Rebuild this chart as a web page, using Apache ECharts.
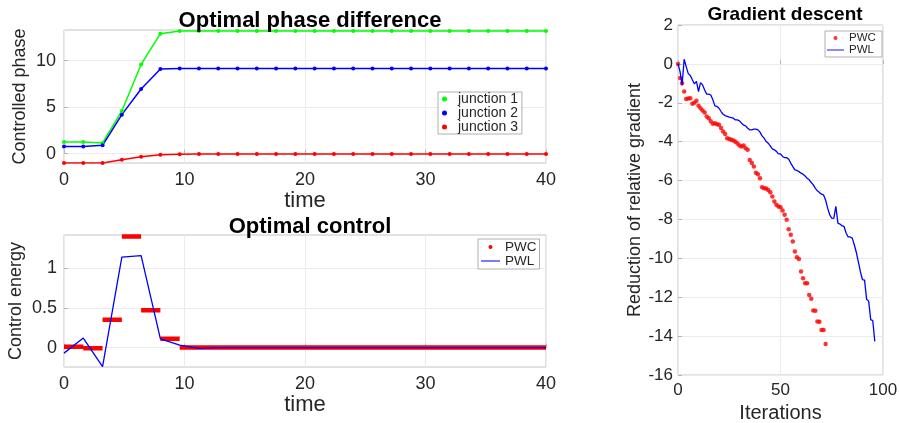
<!DOCTYPE html>
<html>
<head>
<meta charset="utf-8">
<script src="https://cdn.jsdelivr.net/npm/echarts@6/dist/echarts.min.js"></script>
<style>
  html, body { margin: 0; padding: 0; background: #fff; }
  #main { width: 899px; height: 423px; }
</style>
</head>
<body>
<div id="main"></div>
<script>
// time grid of the two left plots
const time = [0, 1.6, 3.2, 4.8, 6.4, 8, 9.6, 11.2, 12.8, 14.4, 16, 17.6, 19.2, 20.8, 22.4, 24,
  25.6, 27.2, 28.8, 30.4, 32, 33.6, 35.2, 36.8, 38.4, 40]

const junction1 = [1.25, 1.25, 1.15, 4.6, 9.6, 12.9, 13.2, 13.2, 13.2, 13.2, 13.2, 13.2, 13.2,
  13.2, 13.2, 13.2, 13.2, 13.2, 13.2, 13.2, 13.2, 13.2, 13.2, 13.2, 13.2, 13.2]
const junction2 = [0.78, 0.78, 0.9, 4.2, 6.95, 9.1, 9.15, 9.15, 9.15, 9.15, 9.15, 9.15, 9.15,
  9.15, 9.15, 9.15, 9.15, 9.15, 9.15, 9.15, 9.15, 9.15, 9.15, 9.15, 9.15, 9.15]
const junction3 = [-1.0, -1.0, -1.0, -0.65, -0.32, -0.12, -0.06, -0.04, -0.04, -0.04, -0.04,
  -0.04, -0.04, -0.04, -0.04, -0.04, -0.04, -0.04, -0.04, -0.04, -0.04, -0.04, -0.04, -0.04, -0.04, -0.04]

// optimal control: piecewise linear at the time points, piecewise constant per interval
const pwl = [-0.07, 0.12, -0.24, 1.14, 1.16, 0.11, 0.03, -0.01, 0, 0, 0, 0, 0, 0, 0, 0, 0, 0,
  0, 0, 0, 0, 0, 0, 0, 0]
const pwcLevels = [0.01, -0.01, 0.35, 1.4, 0.47, 0.11, 0, 0, 0, 0, 0, 0, 0, 0, 0, 0, 0, 0, 0,
  0, 0, 0, 0, 0, 0]

// gradient descent, one value per iteration (starting at 0)
const gradPWC = [0, -0.72, -1.0, -1.42, -1.8, -1.78, -1.77, -2.05, -2.0, -1.9, -2.15, -2.28,
  -2.4, -2.5, -2.7, -2.8, -2.95, -3.08, -3.05, -3.1, -3.13, -3.3, -3.48, -3.6, -3.82, -3.86,
  -3.9, -3.94, -4.0, -4.1, -4.2, -4.25, -4.2, -4.34, -4.42, -4.94, -5.1, -5.28, -5.6, -5.67,
  -5.88, -6.34, -6.4, -6.41, -6.48, -6.6, -6.82, -7.08, -7.25, -7.33, -7.37, -7.54, -7.76,
  -8.02, -8.5, -8.79, -9.13, -9.65, -9.94, -10.04, -10.68, -11.02, -11.28, -11.28, -11.88,
  -12.08, -12.68, -12.7, -13.25, -13.26, -13.68, -13.68, -14.4]
const gradPWL = [0, -0.4, -1.1, 0.24, -0.14, -0.5, -0.6, -0.82, -1.03, -0.9, -1.42, -0.96,
  -1.08, -1.34, -1.56, -1.56, -1.6, -1.85, -2.16, -2.19, -2.28, -2.45, -2.59, -2.66, -2.7,
  -2.74, -2.76, -2.79, -2.88, -2.88, -2.93, -3.05, -3.15, -3.19, -3.31, -3.39, -3.39, -3.36,
  -3.36, -3.39, -3.51, -3.7, -3.82, -3.99, -4.08, -4.22, -4.37, -4.42, -4.5, -4.63, -4.63,
  -4.76, -4.82, -4.82, -4.9, -5.1, -5.28, -5.45, -5.48, -5.54, -5.62, -5.67, -5.76, -5.88,
  -5.96, -6.1, -6.22, -6.4, -6.53, -6.62, -6.7, -6.74, -7.0, -7.42, -7.76, -7.93, -7.95,
  -7.33, -8.19, -8.24, -8.33, -8.36, -8.7, -8.9, -8.9, -8.96, -9.3, -9.7, -10.2, -10.7,
  -11.1, -11.12, -12.1, -12.2, -13.15, -13.2, -14.27]

const phaseTicks = [0, 5, 10]
const energyTicks = [0, 0.5, 1]

const font = 'Liberation Sans, Arial, Helvetica, sans-serif'
const ink = '#262626'
const lineIcon = 'path://M0,0H24V1.3H0Z'

const pair = (xs, ys) => ys.map((y, i) => [xs[i], y])
const byIter = (ys) => ys.map((y, i) => [i, y])

// PWC as separate flat pieces, broken by nulls
const pwcData = []
pwcLevels.forEach((v, i) => {
  pwcData.push([time[i], v], [time[i + 1], v], '-')
})

function xAxisOf(grid, min, max, interval, name, gap, size, nameSize, margin) {
  return {
    gridIndex: grid, type: 'value', min, max, interval,
    name, nameLocation: 'middle', nameGap: gap,
    nameTextStyle: { fontSize: nameSize, color: ink, fontFamily: font },
    axisLine: { show: false },
    axisTick: { inside: true, length: 4, lineStyle: { color: '#b5b5b5' } },
    axisLabel: { fontSize: size, color: ink, fontFamily: font, margin },
    splitLine: { show: true, lineStyle: { color: '#ebebeb' } }
  }
}

function yAxisOf(grid, min, max, extra, name, gap) {
  return Object.assign({
    gridIndex: grid, type: 'value', min, max,
    name, nameLocation: 'middle', nameGap: gap, nameRotate: 90,
    nameTextStyle: { fontSize: 18, color: ink, fontFamily: font },
    axisLine: { show: false },
    axisTick: { inside: true, length: 4, lineStyle: { color: '#b5b5b5' } },
    axisLabel: { fontSize: 18, color: ink, fontFamily: font, margin: 8 },
    splitLine: { show: true, lineStyle: { color: '#ebebeb' } }
  }, extra)
}

const legendBase = {
  orient: 'vertical',
  backgroundColor: '#fff',
  borderColor: '#b0b0b0',
  borderWidth: 1,
  borderRadius: 0,
  itemGap: 0,
  selectedMode: false
}

const myChart = echarts.init(document.getElementById('main'))

myChart.setOption({
  animation: false,
  textStyle: { fontFamily: font },
  title: [
    { text: 'Optimal phase difference', left: 305, top: 5, textAlign: 'center',
      textStyle: { fontSize: 22, fontWeight: 'bold', color: '#000', fontFamily: font } },
    { text: 'Optimal control', left: 305, top: 211, textAlign: 'center',
      textStyle: { fontSize: 22, fontWeight: 'bold', color: '#000', fontFamily: font } },
    { text: 'Gradient descent', left: 780, top: 0, textAlign: 'center',
      textStyle: { fontSize: 19, fontWeight: 'bold', color: '#000', fontFamily: font } }
  ],
  grid: [
    { left: 64, top: 30, width: 482, height: 133, show: true, borderColor: '#c4c4c4',
      borderWidth: 1, outerBoundsMode: 'none', containLabel: false },
    { left: 64, top: 235, width: 482, height: 132, show: true, borderColor: '#c4c4c4',
      borderWidth: 1, outerBoundsMode: 'none', containLabel: false },
    { left: 678, top: 25, width: 205, height: 350, show: true, borderColor: '#c4c4c4',
      borderWidth: 1, outerBoundsMode: 'none', containLabel: false }
  ],
  xAxis: [
    xAxisOf(0, 0, 40, 10, 'time', 24, 18, 22, 8),
    xAxisOf(1, 0, 40, 10, 'time', 26, 18, 22, 8),
    xAxisOf(2, 0, 100, 50, 'Iterations', 22, 17, 20, 7)
  ],
  yAxis: [
    yAxisOf(0, -1, 13.3, {
      nameMoveOverlap: false,
      axisTick: { inside: true, length: 4, lineStyle: { color: '#b5b5b5' }, customValues: phaseTicks },
      axisLabel: { fontSize: 18, color: ink, fontFamily: font, margin: 8, customValues: phaseTicks }
    }, 'Controlled phase', 35),
    yAxisOf(1, -0.245, 1.42, {
      nameMoveOverlap: false,
      axisTick: { inside: true, length: 4, lineStyle: { color: '#b5b5b5' }, customValues: energyTicks },
      axisLabel: { fontSize: 18, color: ink, fontFamily: font, margin: 7, customValues: energyTicks }
    }, 'Control energy', 39),
    yAxisOf(2, -16, 2, { interval: 2,
      axisLabel: { fontSize: 17, color: ink, fontFamily: font, margin: 5 } },
      'Reduction of relative gradient', 34)
  ],
  legend: [
    Object.assign({}, legendBase, {
      left: 438, top: 92, padding: [0, 4, 0, 4],
      itemWidth: 17, itemHeight: 5,
      textStyle: { fontSize: 14, lineHeight: 13, color: ink, fontFamily: font },
      data: [
        { name: 'junction 1', icon: 'circle' },
        { name: 'junction 2', icon: 'circle' },
        { name: 'junction 3', icon: 'circle' }
      ]
    }),
    Object.assign({}, legendBase, {
      left: 478, top: 239, padding: [1, 3, 1, 3],
      itemWidth: 19, itemHeight: 4,
      textStyle: { fontSize: 13.5, lineHeight: 14, color: ink, fontFamily: font },
      data: [{ name: 'PWC', icon: 'circle' }, { name: 'PWL', icon: lineIcon }]
    }),
    Object.assign({}, legendBase, {
      left: 825, top: 31, padding: [1, 3, 1, 2],
      itemWidth: 17, itemHeight: 4,
      textStyle: { fontSize: 11.5, lineHeight: 12, color: ink, fontFamily: font },
      data: [{ name: 'PWC ', icon: 'circle' }, { name: 'PWL ', icon: lineIcon }]
    })
  ],
  series: [
    { name: 'junction 1', type: 'line', xAxisIndex: 0, yAxisIndex: 0, data: pair(time, junction1),
      color: '#00ff00', symbol: 'circle', symbolSize: 4, showAllSymbol: true,
      lineStyle: { width: 1.5 } },
    { name: 'junction 2', type: 'line', xAxisIndex: 0, yAxisIndex: 0, data: pair(time, junction2),
      color: '#0000ff', symbol: 'circle', symbolSize: 4, showAllSymbol: true,
      lineStyle: { width: 1.5 } },
    { name: 'junction 3', type: 'line', xAxisIndex: 0, yAxisIndex: 0, data: pair(time, junction3),
      color: '#ff0000', symbol: 'circle', symbolSize: 4, showAllSymbol: true,
      lineStyle: { width: 1.5 } },

    { name: 'PWC', type: 'line', xAxisIndex: 1, yAxisIndex: 1, data: pwcData,
      color: '#ff0000', symbol: 'none', connectNulls: false, z: 2,
      lineStyle: { width: 4.5, cap: 'butt' } },
    { name: 'PWL', type: 'line', xAxisIndex: 1, yAxisIndex: 1, data: pair(time, pwl),
      color: '#0000ff', symbol: 'none', z: 3, lineStyle: { width: 1.3 } },

    { name: 'PWC ', type: 'scatter', xAxisIndex: 2, yAxisIndex: 2, data: byIter(gradPWC),
      color: '#ff0000', symbol: 'circle', symbolSize: 4.5, z: 2 },
    { name: 'PWL ', type: 'line', xAxisIndex: 2, yAxisIndex: 2, data: byIter(gradPWL),
      color: '#0000ff', symbol: 'none', z: 3, lineStyle: { width: 1.3 } }
  ]
})
</script>
</body>
</html>
